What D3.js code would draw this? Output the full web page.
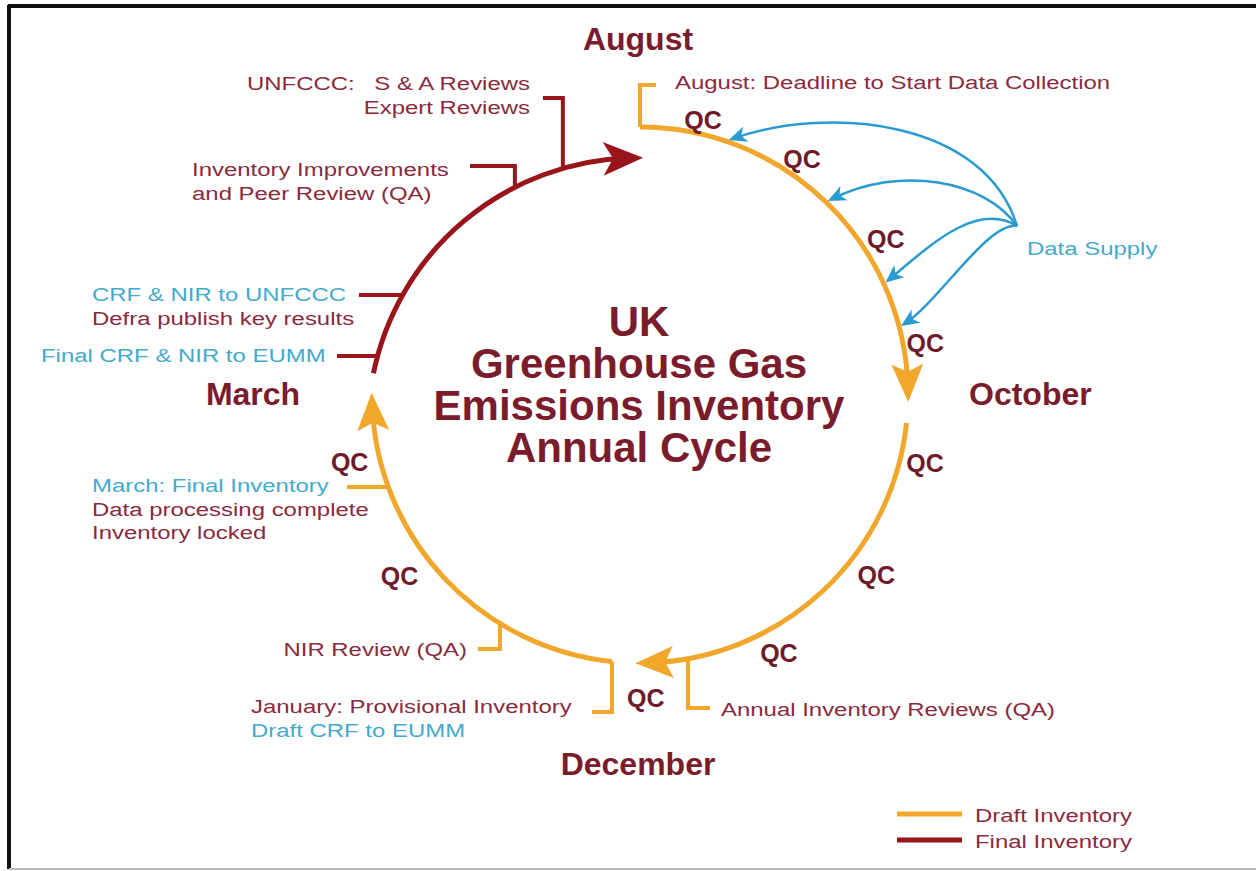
<!DOCTYPE html>
<html>
<head>
<meta charset="utf-8">
<script src="https://cdn.jsdelivr.net/npm/d3@7/dist/d3.min.js"></script>
<style>
  html, body { margin: 0; padding: 0; background: #fff; }
  svg { display: block; }
</style>
</head>
<body>
<svg id="chart"></svg>
<script>
// ---- data (angles in degrees, clockwise from 12 o'clock) ----
const segKinds = ["draft", "draft", "draft", "final"];
const segStart = [0, 96, 186, 281.5];
const segEnd = [91.5, 181, 270.5, 361.3];   // arrow tips

const monthNames = ["August", "October", "December", "March"];
const qcAngles = [12.9, 34.5, 57.6, 79.7, 103.4, 127.3, 151.7, 178.9, 233, 257];
const supplyAngles = [19.2, 44.1, 65.4, 75.2];
const titleLines = ["UK", "Greenhouse Gas", "Emissions Inventory", "Annual Cycle"];
const legendNames = ["Draft Inventory", "Final Inventory"];
const legendKinds = ["draft", "final"];

const noteText = [
  [["August: Deadline to Start Data Collection", "red"]],
  [["S & A Reviews", "red"], ["Expert Reviews", "red"]],
  [["Inventory Improvements", "red"], ["and Peer Review (QA)", "red"]],
  [["CRF & NIR to UNFCCC", "teal"], ["Defra publish key results", "red"]],
  [["Final CRF & NIR to EUMM", "teal"]],
  [["March: Final Inventory", "teal"], ["Data processing complete", "red"], ["Inventory locked", "red"]],
  [["NIR Review (QA)", "red"]],
  [["January: Provisional Inventory", "red"], ["Draft CRF to EUMM", "teal"]],
  [["Annual Inventory Reviews (QA)", "red"]]
];
const noteKinds = ["draft", "final", "final", "final", "final", "draft", "draft", "draft", "draft"];
const noteAngles = [0, 344, 333, 299.4, 285.3, 249.9, 211.5, 186, 169.7];

// ---- layout ----
const W = 1256, H = 871;
const SX = 1.26;   // the source text is drawn wide
const FONT = "'Liberation Sans', Arial, Helvetica, sans-serif";
const colors = {
  draft: "#f0a72c", final: "#9a141c", red: "#8a2a3c", teal: "#45aacd",
  blue: "#2a9bcf", title: "#7a1c2c", qc: "#6f1a2a"
};
const circles = {
  draft: { cx: 640, cy: 395, r: 268 },
  final: { cx: 637, cy: 427, r: 269 }
};
const monthPos = [[638, 50, "middle"], [969, 405, "start"], [638, 775, "middle"], [253, 405, "middle"]];
const qcRadius = [282, 286, 291, 290, 293, 297, 293, 303, 301, 298];
const noteLayout = [
  { x: 675, y: 89, anchor: "start", hx: 656, hy: 85 },
  { x: 530, y: 90, anchor: "end", hx: 543, hy: 98 },
  { x: 192, y: 176, anchor: "start", hx: 470, hy: 166 },
  { x: 92, y: 301, anchor: "start", hx: 359, hy: null },
  { x: 41, y: 362, anchor: "start", hx: 337, hy: null },
  { x: 92, y: 492, anchor: "start", hx: 347, hy: null },
  { x: 467, y: 656, anchor: "end", hx: 478, hy: 649 },
  { x: 251, y: 713, anchor: "start", hx: 592, hy: 712 },
  { x: 721, y: 716, anchor: "start", hx: 710, hy: 708 }
];
const supplyOrigin = [1017, 226];
const supplyBends = [
  [[985, 120], [830, 105]],
  [[985, 180], [900, 165]],
  [[975, 200], [925, 250]],
  [[988, 222], [940, 300]]
];

const svg = d3.select("#chart")
  .attr("width", W).attr("height", H)
  .attr("viewBox", [0, 0, W, H])
  .style("background", "#fff");

const deg = d3.scaleLinear().domain([0, 360]).range([0, 2 * Math.PI]);
function pt(kind, a, dr = 0) {
  const c = circles[kind], t = deg(a);
  return [c.cx + (c.r + dr) * Math.sin(t), c.cy - (c.r + dr) * Math.cos(t)];
}

// frame
svg.append("line").attr("x1", 8).attr("y1", 6).attr("x2", W).attr("y2", 6)
  .attr("stroke", "#111").attr("stroke-width", 4);
svg.append("line").attr("x1", 9).attr("y1", 5).attr("x2", 9).attr("y2", 869)
  .attr("stroke", "#111").attr("stroke-width", 4);
svg.append("line").attr("x1", 9).attr("y1", 869).attr("x2", W).attr("y2", 869)
  .attr("stroke", "#bbb").attr("stroke-width", 2);

// arrow markers
const defs = svg.append("defs");
function marker(id, color, tip, len, half, notch) {
  defs.append("marker")
    .attr("id", id)
    .attr("markerUnits", "userSpaceOnUse")
    .attr("viewBox", "-60 -30 80 60")
    .attr("markerWidth", 80).attr("markerHeight", 60)
    .attr("refX", 0).attr("refY", 0)
    .attr("orient", "auto")
    .append("path")
    .attr("d", `M${tip},0 L${tip - len},${-half} L${tip - len + notch},0 L${tip - len},${half} Z`)
    .attr("fill", color);
}
const TRIM = 14;
marker("head-draft", colors.draft, TRIM, 38, 16, 8);
marker("head-final", colors.final, TRIM, 40, 17, 10);
marker("head-blue", colors.blue, 5, 18, 8, 5);

// cycle arcs
segKinds.forEach((kind, i) => {
  const c = circles[kind];
  const endA = segEnd[i] - (TRIM / c.r) * 180 / Math.PI;
  const p = d3.path();
  p.arc(c.cx, c.cy, c.r, deg(segStart[i] - 90), deg(endA - 90), false);
  svg.append("path")
    .attr("d", p.toString())
    .attr("fill", "none")
    .attr("stroke", colors[kind])
    .attr("stroke-width", 5)
    .attr("marker-end", `url(#head-${kind})`);
});

// data supply arrows
supplyAngles.forEach((a, i) => {
  const [tx, ty] = pt("draft", a, 2);
  const [c1, c2] = supplyBends[i];
  const dx = tx - c2[0], dy = ty - c2[1], L = Math.hypot(dx, dy);
  const ex = tx - 5 * dx / L, ey = ty - 5 * dy / L;
  const p = d3.path();
  p.moveTo(supplyOrigin[0], supplyOrigin[1]);
  p.bezierCurveTo(c1[0], c1[1], c2[0], c2[1], ex, ey);
  svg.append("path")
    .attr("d", p.toString())
    .attr("fill", "none")
    .attr("stroke", colors.blue)
    .attr("stroke-width", 2.5)
    .attr("marker-end", "url(#head-blue)");
});

// stretched regular text
function wideText(x, y, str, color, anchor) {
  svg.append("text")
    .attr("transform", `translate(${x},${y}) scale(${SX},1)`)
    .attr("text-anchor", anchor)
    .attr("font-family", FONT)
    .attr("font-size", 19)
    .attr("fill", color)
    .text(str);
}

// annotations with their leader lines
noteText.forEach((lines, i) => {
  const lay = noteLayout[i];
  const kind = noteKinds[i];
  const [px, py] = pt(kind, noteAngles[i]);
  const hy = lay.hy === null ? py : lay.hy;
  const p = d3.path();
  p.moveTo(lay.hx, hy);
  p.lineTo(px, hy);
  if (lay.hy !== null) p.lineTo(px, py);
  svg.append("path")
    .attr("d", p.toString())
    .attr("fill", "none")
    .attr("stroke", colors[kind])
    .attr("stroke-width", 4);
  lines.forEach(([str, role], j) => {
    wideText(lay.x, lay.y + j * 23.5, str, colors[role], lay.anchor);
  });
});
wideText(247, 90, "UNFCCC:", colors.red, "start");
wideText(1027, 255, "Data Supply", colors.teal, "start");

// QC marks
qcAngles.forEach((a, i) => {
  const t = deg(a);
  const c = circles.draft;
  svg.append("text")
    .attr("x", c.cx + qcRadius[i] * Math.sin(t))
    .attr("y", c.cy - qcRadius[i] * Math.cos(t) + 9)
    .attr("text-anchor", "middle")
    .attr("font-family", FONT)
    .attr("font-weight", "bold")
    .attr("font-size", 25)
    .attr("fill", colors.qc)
    .text("QC");
});

// months
monthNames.forEach((m, i) => {
  svg.append("text")
    .attr("x", monthPos[i][0]).attr("y", monthPos[i][1])
    .attr("text-anchor", monthPos[i][2])
    .attr("font-family", FONT)
    .attr("font-weight", "bold")
    .attr("font-size", 32)
    .attr("fill", colors.title)
    .text(m);
});

// centre title, one text block with a line per tspan
svg.append("text")
  .attr("text-anchor", "middle")
  .attr("font-family", FONT)
  .attr("font-weight", "bold")
  .attr("font-size", 42)
  .attr("fill", colors.title)
  .selectAll("tspan")
  .data(titleLines)
  .join("tspan")
  .attr("x", 639)
  .attr("y", (d, i) => 336 + i * 42)
  .text(d => d);

// legend
const legend = svg.append("g").attr("transform", "translate(897, 814)");
legendNames.forEach((name, i) => {
  const item = legend.append("g").attr("transform", `translate(0, ${i * 26})`);
  item.append("line")
    .attr("x1", 0).attr("x2", 65).attr("y1", 0).attr("y2", 0)
    .attr("stroke", colors[legendKinds[i]]).attr("stroke-width", 5);
  item.append("text")
    .attr("transform", `translate(78, 8) scale(${SX},1)`)
    .attr("font-family", FONT)
    .attr("font-size", 19)
    .attr("fill", colors.red)
    .text(name);
});
</script>
</body>
</html>
